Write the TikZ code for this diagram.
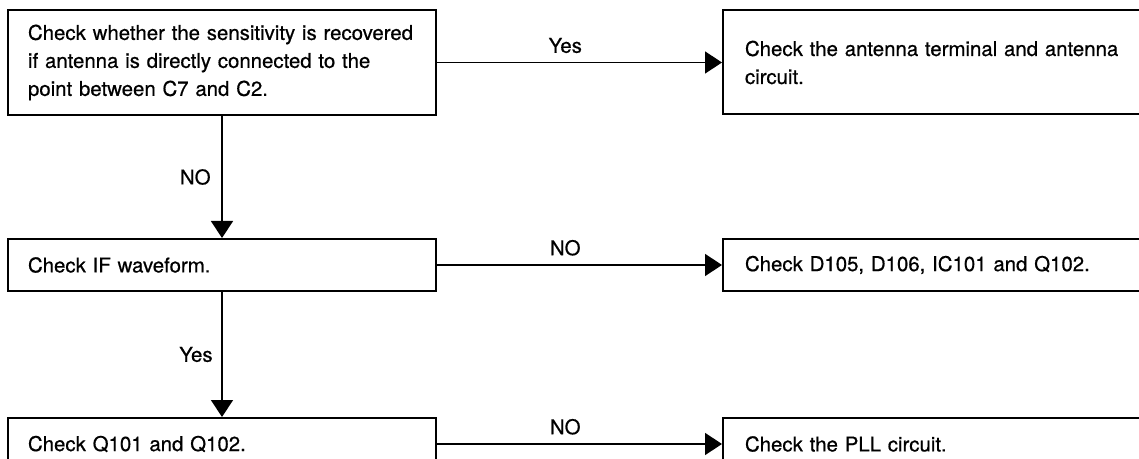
\documentclass[tikz,border=0pt]{standalone}
\usepackage{fontspec}
\setmainfont{TeX Gyre Heros}[FakeBold=0.6]
\usetikzlibrary{arrows.meta,positioning}

\begin{document}
\begin{tikzpicture}[x=0.5pt,y=-0.5pt,
	box/.style={draw,line width=1pt,align=left,inner ysep=0pt,font=\fontsize{10.2}{14}\selectfont},
	lbox/.style={box,inner xsep=10pt,text width=194pt},
	rbox/.style={box,inner xsep=11pt,text width=198pt},
	flow/.style={-{Triangle[length=8.5pt,width=11pt]},line width=0.75pt},
	lbl/.style={font=\fontsize{10.2}{12}\selectfont}]
	\useasboundingbox (0,0) rectangle (1139,459);
	\clip (0,0) rectangle (1139,459);
	
	% left column
	\node[lbox,minimum height=52.5pt,anchor=north west] (chk) at (7,9) {Check whether the sensitivity is recovered\\if antenna is directly connected to the\\point between C7 and C2.};
	\node[lbox,minimum height=26pt,below=61pt of chk] (ifw) {Check IF waveform.};
	\node[lbox,minimum height=26pt,below=62.5pt of ifw] (qchk) {Check Q101 and Q102.};
	
	% right column
	\node[rbox,minimum height=52pt,right=142.5pt of chk] (ant) {Check the antenna terminal and antenna\\circuit.};
	\node[rbox,minimum height=26pt,right=142.5pt of ifw] (diode) {Check D105, D106, IC101 and Q102.};
	\node[rbox,minimum height=26pt,right=142.5pt of qchk] (pll) {Check the PLL circuit.};
	
	\draw[flow] (chk.east) -- node[lbl,above=1pt,pos=0.45]{Yes} (ant.west);
	\draw[flow] (ifw.east) -- node[lbl,above=1pt,pos=0.45]{NO} (diode.west);
	\draw[flow] (qchk.east) -- node[lbl,above=1pt,pos=0.45]{NO} (pll.west);
	
	\draw[flow] (chk.south) -- node[lbl,left=2pt]{NO} (ifw.north);
	\draw[flow] (ifw.south) -- node[lbl,left=1pt]{Yes} (qchk.north);
\end{tikzpicture}
\end{document}
